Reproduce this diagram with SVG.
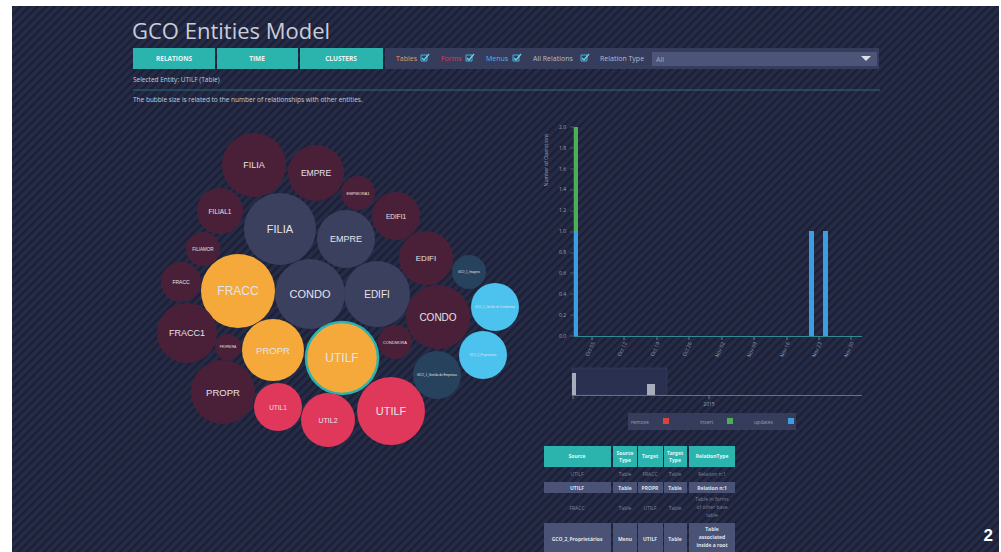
<svg xmlns="http://www.w3.org/2000/svg" width="1001" height="552" viewBox="0 0 1001 552">
<defs>
<pattern id="stripes" width="6" height="6" patternUnits="userSpaceOnUse" patternTransform="rotate(45)">
<rect width="6" height="6" fill="#262c47"/>
<rect width="2.5" height="6" fill="#1b2036"/>
</pattern>
<style>
.ttl{font-family:"Open Sans","Liberation Sans",sans-serif;font-size:22px;fill:#c9cdd9}
.btn{fill:#2bb3ae}
.btnt{font-family:"Open Sans","Liberation Sans",sans-serif;font-size:6.5px;font-weight:bold;fill:#e8f6f6;text-anchor:middle}
.sm{font-family:"Open Sans","Liberation Sans",sans-serif;font-size:6.5px;fill:#c8ccd8}
.flt{font-family:"Open Sans","Liberation Sans",sans-serif;font-size:7px}
.b{font-family:"Liberation Sans",Arial,sans-serif;fill:#e6e2ea;text-anchor:middle;dominant-baseline:central}
.mar{fill:#4a2039}
.sla{fill:#3c405f}
.org{fill:#f4a93a}
.pnk{fill:#e0385b}
.lbl{fill:#4cc3ee}
.dtl{fill:#27425c}
.ax{font-family:"Open Sans","Liberation Sans",sans-serif;font-size:5px;fill:#9aa0b4}
.th{font-family:"Open Sans","Liberation Sans",sans-serif;font-size:5px;font-weight:bold;fill:#e8f6f6;text-anchor:middle}
.td{font-family:"Open Sans","Liberation Sans",sans-serif;font-size:5px;fill:#7d8398;text-anchor:middle}
.tdb{font-family:"Open Sans","Liberation Sans",sans-serif;font-size:5px;font-weight:bold;fill:#dfe2ea;text-anchor:middle}
</style>
</defs>
<rect width="1001" height="552" fill="#ffffff"/>
<rect x="12" y="6" width="987" height="546" fill="url(#stripes)"/>

<g id="header">
<text class="ttl" x="132" y="39">GCO Entities Model</text>
<rect class="btn" x="133" y="48" width="82" height="21"/>
<rect class="btn" x="217" y="48" width="81" height="21"/>
<rect class="btn" x="300" y="48" width="83" height="21"/>
<text class="btnt" x="174" y="61">RELATIONS</text>
<text class="btnt" x="257" y="61">TIME</text>
<text class="btnt" x="341" y="61">CLUSTERS</text>
<rect x="385" y="48" width="494" height="21" fill="#363c5b"/>
<text class="flt" x="396" y="61" fill="#e69a62">Tables</text>
<path d="M421 55h6v6h-6z" fill="none" stroke="#3fb6d8" stroke-width="1"/><path d="M422 58l2 2 5-6" fill="none" stroke="#6fd0ee" stroke-width="1.3"/>
<text class="flt" x="441" y="61" fill="#e0385b">Forms</text>
<path d="M466 55h6v6h-6z" fill="none" stroke="#3fb6d8" stroke-width="1"/><path d="M467 58l2 2 5-6" fill="none" stroke="#6fd0ee" stroke-width="1.3"/>
<text class="flt" x="486" y="61" fill="#4cb8e8">Menus</text>
<path d="M513 55h6v6h-6z" fill="none" stroke="#3fb6d8" stroke-width="1"/><path d="M514 58l2 2 5-6" fill="none" stroke="#6fd0ee" stroke-width="1.3"/>
<text class="flt" x="533" y="61" fill="#b6bccc">All Relations</text>
<path d="M581 55h6v6h-6z" fill="none" stroke="#3fb6d8" stroke-width="1"/><path d="M582 58l2 2 5-6" fill="none" stroke="#6fd0ee" stroke-width="1.3"/>
<text class="flt" x="600" y="61" fill="#b6bccc">Relation Type</text>
<rect x="652" y="52" width="225" height="14" fill="#4c5478"/>
<text class="flt" x="656" y="62" fill="#a8aec2">All</text>
<path d="M861 56h10l-5 5z" fill="#dde0ea"/>
<text class="sm" x="133" y="82">Selected Entity: UTILF (Table)</text>
<line x1="133" y1="90" x2="880" y2="90" stroke="#2f6a78" stroke-width="1"/>
<text class="sm" x="133" y="102" fill="#b4b9c8">The bubble size is related to the number of relationships with other entities.</text>
</g>

<g id="bubbles">
<g id="b-filia-m"><circle class="mar" cx="254" cy="165" r="32"/><text class="b" x="254" y="165" font-size="9">FILIA</text></g>
<g id="b-empre-m"><circle class="mar" cx="316" cy="173" r="28"/><text class="b" x="316" y="173" font-size="8.5">EMPRE</text></g>
<g id="b-empmora"><circle class="mar" cx="358" cy="193" r="17"/><text class="b" x="358" y="193" font-size="4">EMPMORA1</text></g>
<g id="b-edifi1"><circle class="mar" cx="396" cy="216" r="24"/><text class="b" x="396" y="216" font-size="6.5">EDIFI1</text></g>
<g id="b-filial1"><circle class="mar" cx="220" cy="211" r="23"/><text class="b" x="220" y="211" font-size="6.5">FILIAL1</text></g>
<g id="b-filia-s"><circle class="sla" cx="280" cy="229" r="36"/><text class="b" x="280" y="229" font-size="11">FILIA</text></g>
<g id="b-empre-s"><circle class="sla" cx="346" cy="239" r="29"/><text class="b" x="346" y="239" font-size="9">EMPRE</text></g>
<g id="b-filiamor"><circle class="mar" cx="203" cy="249" r="17"/><text class="b" x="203" y="249" font-size="4.5">FILIAMOR</text></g>
<g id="b-edifi-m"><circle class="mar" cx="426" cy="258" r="27"/><text class="b" x="426" y="258" font-size="8">EDIFI</text></g>
<g id="b-gco-img"><circle class="dtl" cx="469" cy="272" r="17"/><text class="b" x="469" y="272" font-size="2.8">GCO_1_Imagens</text></g>
<g id="b-fracc-m"><circle class="mar" cx="181" cy="282" r="20"/><text class="b" x="181" y="282" font-size="5">FRACC</text></g>
<g id="b-fracc-o"><circle class="org" cx="238" cy="291" r="37"/><text class="b" x="238" y="291" font-size="12">FRACC</text></g>
<g id="b-condo-s"><circle class="sla" cx="310" cy="294" r="35"/><text class="b" x="310" y="294" font-size="11">CONDO</text></g>
<g id="b-edifi-s"><circle class="sla" cx="377" cy="294" r="33"/><text class="b" x="377" y="294" font-size="10">EDIFI</text></g>
<g id="b-gco-cond"><circle class="lbl" cx="495" cy="307" r="24"/><text class="b" x="495" y="307" font-size="2.8">GCO_1_Gestão de Condomínio</text></g>
<g id="b-condo-m"><circle class="mar" cx="438" cy="317" r="32"/><text class="b" x="438" y="317" font-size="10">CONDO</text></g>
<g id="b-fracc1"><circle class="mar" cx="187" cy="333" r="30"/><text class="b" x="187" y="333" font-size="9">FRACC1</text></g>
<g id="b-condmora"><circle class="mar" cx="395" cy="342" r="17"/><text class="b" x="395" y="342" font-size="4">CONDMORA</text></g>
<g id="b-propmora"><circle class="mar" cx="228" cy="347" r="13"/><text class="b" x="228" y="347" font-size="2.8">PROPMORA</text></g>
<g id="b-propr-o"><circle class="org" cx="273" cy="350" r="31"/><text class="b" x="273" y="350" font-size="9.5">PROPR</text></g>
<g id="b-gco-prop"><circle class="lbl" cx="483" cy="355" r="24"/><text class="b" x="483" y="355" font-size="2.8">GCO_2_Proprietários</text></g>
<g id="b-utilf-o"><circle class="org" cx="342" cy="358" r="36" stroke="#2bb3ae" stroke-width="2.5"/><text class="b" x="342" y="358" font-size="12">UTILF</text></g>
<g id="b-gco-emp"><circle class="dtl" cx="437" cy="375" r="24"/><text class="b" x="437" y="375" font-size="3">GCO_1_Gestão de Empresas</text></g>
<g id="b-propr-m"><circle class="mar" cx="223" cy="392" r="32"/><text class="b" x="223" y="392" font-size="9.5">PROPR</text></g>
<g id="b-util1"><circle class="pnk" cx="278" cy="407" r="24"/><text class="b" x="278" y="407" font-size="6.5">UTIL1</text></g>
<g id="b-utilf-p"><circle class="pnk" cx="391" cy="411" r="34"/><text class="b" x="391" y="411" font-size="11">UTILF</text></g>
<g id="b-util2"><circle class="pnk" cx="328" cy="420" r="27"/><text class="b" x="328" y="420" font-size="7">UTIL2</text></g>
</g>

<g id="chart">
<text class="ax" transform="translate(548,160) rotate(-90)" text-anchor="middle">Number of Operations</text>
<g class="ax" text-anchor="end">
<text x="566" y="129">2.0</text><text x="566" y="150">1.8</text><text x="566" y="171">1.6</text><text x="566" y="191">1.4</text><text x="566" y="212">1.2</text><text x="566" y="233">1.0</text><text x="566" y="254">0.8</text><text x="566" y="275">0.6</text><text x="566" y="296">0.4</text><text x="566" y="317">0.2</text><text x="566" y="338">0.0</text>
</g>
<path d="M570 127h4M570 148h4M570 169h4M570 190h4M570 211h4M570 232h4M570 253h4M570 273h4M570 294h4M570 315h4M570 336h4" stroke="#5a6078" stroke-width="0.8"/>
<line x1="574" y1="127" x2="574" y2="337" stroke="#2f6a78" stroke-width="1"/>
<line x1="574" y1="336.5" x2="862" y2="336.5" stroke="#2f8a92" stroke-width="1.2"/>
<path d="M592 337v3M624 337v3M657 337v3M689 337v3M722 337v3M754 337v3M787 337v3M819 337v3M851 337v3" stroke="#8a90a4" stroke-width="0.8"/>
<g class="ax">
<text transform="translate(595,343) rotate(-65)" text-anchor="end">Oct 05</text>
<text transform="translate(627,343) rotate(-65)" text-anchor="end">Oct 12</text>
<text transform="translate(660,343) rotate(-65)" text-anchor="end">Oct 19</text>
<text transform="translate(692,343) rotate(-65)" text-anchor="end">Oct 26</text>
<text transform="translate(725,343) rotate(-65)" text-anchor="end">Nov 02</text>
<text transform="translate(757,343) rotate(-65)" text-anchor="end">Nov 09</text>
<text transform="translate(790,343) rotate(-65)" text-anchor="end">Nov 16</text>
<text transform="translate(822,343) rotate(-65)" text-anchor="end">Nov 23</text>
<text transform="translate(854,343) rotate(-65)" text-anchor="end">Nov 30</text>
</g>
<rect x="574" y="127" width="4" height="104" fill="#4cae55"/>
<rect x="574" y="231" width="4" height="105" fill="#3c9de0"/>
<rect x="809" y="231" width="5" height="105" fill="#3c9de0"/>
<rect x="823" y="231" width="5" height="105" fill="#3c9de0"/>
</g>

<g id="brush">
<rect x="572" y="368" width="95" height="27" fill="#2a3050" stroke="#3a4060" stroke-width="0.6"/>
<rect x="572" y="373" width="4" height="22" fill="#a9adbb"/>
<rect x="647" y="384" width="8" height="11" fill="#a9adbb"/>
<line x1="572" y1="395.5" x2="862" y2="395.5" stroke="#2f8a92" stroke-width="1.2"/>
<path d="M709 396v3M573 396v3" stroke="#8a90a4" stroke-width="0.8"/>
<text class="ax" x="709" y="406" text-anchor="middle">2015</text>
</g>

<g id="legend">
<rect x="628" y="413" width="168" height="17" fill="#363c5b"/>
<text class="ax" x="631" y="424" font-size="6.5">remove</text>
<rect x="663" y="418" width="6" height="6" fill="#d9443c"/>
<text class="ax" x="700" y="424" font-size="6.5">insert</text>
<rect x="727" y="418" width="6" height="6" fill="#4cae55"/>
<text class="ax" x="754" y="424" font-size="6.5">updates</text>
<rect x="788" y="418" width="6" height="6" fill="#3c9de0"/>
</g>

<g id="table">
<rect x="544" y="446" width="67" height="21" class="btn"/>
<rect x="613" y="446" width="24" height="21" class="btn"/>
<rect x="638" y="446" width="25" height="21" class="btn"/>
<rect x="664" y="446" width="23" height="21" class="btn"/>
<rect x="689" y="446" width="46" height="21" class="btn"/>
<text class="th" x="577" y="458">Source</text>
<text class="th" x="625" y="455">Source</text><text class="th" x="625" y="462">Type</text>
<text class="th" x="650" y="458">Target</text>
<text class="th" x="675" y="455">Target</text><text class="th" x="675" y="462">Type</text>
<text class="th" x="712" y="458">RelationType</text>
<text class="td" x="577" y="476">UTILF</text><text class="td" x="625" y="476">Table</text><text class="td" x="650" y="476">FRACC</text><text class="td" x="675" y="476">Table</text><text class="td" x="712" y="476">Relation n:1</text>
<rect x="544" y="482" width="67" height="11" fill="#4a5275"/><rect x="613" y="482" width="24" height="11" fill="#4a5275"/><rect x="638" y="482" width="25" height="11" fill="#4a5275"/><rect x="664" y="482" width="23" height="11" fill="#4a5275"/><rect x="689" y="482" width="46" height="11" fill="#4a5275"/>
<text class="tdb" x="577" y="489.5">UTILF</text><text class="tdb" x="625" y="489.5">Table</text><text class="tdb" x="650" y="489.5">PROPR</text><text class="tdb" x="675" y="489.5">Table</text><text class="tdb" x="712" y="489.5">Relation n:1</text>
<text class="td" x="577" y="510">FRACC</text><text class="td" x="625" y="510">Table</text><text class="td" x="650" y="510">UTILF</text><text class="td" x="675" y="510">Table</text>
<text class="td" x="712" y="501">Table in forms</text><text class="td" x="712" y="509">of other base</text><text class="td" x="712" y="517">table</text>
<rect x="544" y="523" width="67" height="29" fill="#4a5275"/><rect x="613" y="523" width="24" height="29" fill="#4a5275"/><rect x="638" y="523" width="25" height="29" fill="#4a5275"/><rect x="664" y="523" width="23" height="29" fill="#4a5275"/><rect x="689" y="523" width="46" height="29" fill="#4a5275"/>
<text class="tdb" x="577" y="541">GCO_2_Proprietários</text><text class="tdb" x="625" y="541">Menu</text><text class="tdb" x="650" y="541">UTILF</text><text class="tdb" x="675" y="541">Table</text>
<text class="tdb" x="712" y="531">Table</text><text class="tdb" x="712" y="539">associated</text><text class="tdb" x="712" y="547">inside a root</text>
</g>

<text x="993" y="541" font-family="Liberation Sans,Arial,sans-serif" font-size="17" font-weight="bold" fill="#ffffff" text-anchor="end">2</text>
</svg>
